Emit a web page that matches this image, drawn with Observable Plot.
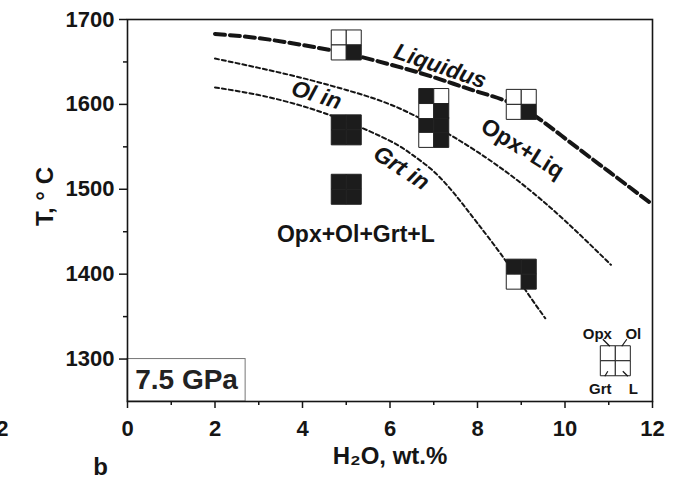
<!DOCTYPE html>
<html><head><meta charset="utf-8">
<script src="https://cdn.jsdelivr.net/npm/d3@7"></script>
<script src="https://cdn.jsdelivr.net/npm/@observablehq/plot@0.6"></script>
<style>body{margin:0;background:#fff;}</style>
</head><body><div id="chart"></div>
<script>
// Experimental runs (H2O wt.%, T °C) and phases present (1 = present)
const h2o  = [5, 5, 5, 7, 7, 9, 9];
const temp = [1670, 1570, 1500, 1601, 1567, 1600, 1400];
const opx  = [0, 1, 1, 1, 1, 0, 1];
const ol   = [0, 1, 1, 0, 1, 0, 1];
const grt  = [0, 1, 1, 0, 0, 0, 0];
const liq  = [1, 1, 1, 1, 1, 1, 1];

// Phase boundaries
const liquidusX = [2, 3, 4, 5, 6, 7, 8, 9, 10, 11, 12];
const liquidusT = [1683, 1678, 1670, 1660, 1647, 1632, 1615, 1596, 1560, 1521, 1482];
const olInX = [2, 3, 4, 5, 6, 7, 8, 9, 10, 11.05];
const olInT = [1654, 1643, 1631, 1617, 1600, 1575, 1544, 1507, 1463, 1411];
const grtInX = [2, 3, 4, 5, 6, 6.5, 7, 7.5, 8, 8.6, 9.1, 9.55];
const grtInT = [1620, 1611, 1598, 1580, 1557, 1541, 1521, 1493, 1460, 1419, 1381, 1348];

// Legend key
const phases = ["Opx", "Ol", "Grt", "L"];
const legendX = [11.15];
const legendT = [1298];

// Axis ticks
const xMajor = [0, 2, 4, 6, 8, 10, 12];
const xMinor = [1, 3, 5, 7, 9, 11];
const yMajor = [1300, 1400, 1500, 1600, 1700];
const yMinor = [1350, 1450, 1550, 1650];

const expts = h2o.map((x, i) => ({x, t: temp[i], Opx: opx[i], Ol: ol[i], Grt: grt[i], L: liq[i]}));
const legendRow = [{x: legendX[0], t: legendT[0], Opx: 0, Ol: 0, Grt: 0, L: 0}];
const line = (xs, ts) => xs.map((x, i) => ({x, t: ts[i]}));

const cell = 15;
const cellPos = {Opx: [-1, -1], Ol: [1, -1], Grt: [-1, 1], L: [1, 1]};
const cellMarks = (rows) => phases.map(p => Plot.dot(rows, {
  x: "x", y: "t", symbol: "square", r: cell / Math.sqrt(Math.PI),
  fill: d => d[p] ? "#1c1c1c" : "#ffffff", stroke: "#222", strokeWidth: 1,
  dx: cellPos[p][0] * cell / 2, dy: cellPos[p][1] * cell / 2
}));

const ink = "#151515";
const plot = Plot.plot({
  width: 678, height: 481,
  marginLeft: 127, marginRight: 26, marginTop: 19, marginBottom: 80,
  x: {domain: [0, 12]},
  y: {domain: [1250, 1700]},
  color: {type: "identity"},
  style: {fontFamily: "'Liberation Sans', Arial, sans-serif", fontWeight: "bold", color: ink, background: "#fff"},
  marks: [
    Plot.rect([{x1: 0, x2: 2.7, y1: 1250, y2: 1300}], {x1: "x1", x2: "x2", y1: "y1", y2: "y2", fill: "none", stroke: "#777", strokeWidth: 1}),
    Plot.text(["7.5 GPa"], {x: 1.35, y: 1275, fontSize: 28, fill: "#222"}),
    Plot.line(line(liquidusX, liquidusT), {x: "x", y: "t", curve: "natural", stroke: ink, strokeWidth: 4, strokeDasharray: "10,5"}),
    Plot.line(line(olInX, olInT), {x: "x", y: "t", curve: "natural", stroke: ink, strokeWidth: 2, strokeDasharray: "4,3"}),
    Plot.line(line(grtInX, grtInT), {x: "x", y: "t", curve: "natural", stroke: ink, strokeWidth: 2, strokeDasharray: "4,3"}),
    ...cellMarks(expts),
    ...cellMarks(legendRow),
    Plot.text(legendRow, {x: "x", y: "t", text: () => "Opx", dx: -18, dy: -27, fontSize: 15}),
    Plot.text(legendRow, {x: "x", y: "t", text: () => "Ol", dx: 18, dy: -27, fontSize: 15}),
    Plot.text(legendRow, {x: "x", y: "t", text: () => "Grt", dx: -15, dy: 28, fontSize: 15}),
    Plot.text(legendRow, {x: "x", y: "t", text: () => "L", dx: 18, dy: 28, fontSize: 15}),
    // curve labels
    Plot.text(["Liquidus"], {x: 7.15, y: 1645, rotate: 19, fontSize: 23, fontStyle: "italic"}),
    Plot.text(["Ol in"], {x: 4.32, y: 1611, rotate: 17, fontSize: 23, fontStyle: "italic"}),
    Plot.text(["Grt in"], {x: 6.26, y: 1525, rotate: 33, fontSize: 23, fontStyle: "italic"}),
    Plot.text(["Opx+Liq"], {x: 9.03, y: 1548, rotate: 32, fontSize: 23}),
    Plot.text(["Opx+Ol+Grt+L"], {x: 5.22, y: 1446, fontSize: 23}),
    // axes
    Plot.frame({stroke: ink, strokeWidth: 1.6}),
    Plot.axisX({ticks: xMajor, tickSize: 7, tickPadding: 12, fontSize: 22, label: null, strokeWidth: 1.5, tickFormat: d => String(d)}),
    Plot.axisX({ticks: xMinor, tickSize: 4, label: null, strokeWidth: 1.5, tickFormat: () => ""}),
    Plot.axisY({ticks: yMajor, tickSize: 8, tickPadding: 5, fontSize: 22, label: null, strokeWidth: 1.5, tickFormat: d => String(d)}),
    Plot.axisY({ticks: yMinor, tickSize: 4, label: null, strokeWidth: 1.5, tickFormat: () => ""}),
    Plot.text(["H\u2082O, wt.%"], {frameAnchor: "bottom", textAnchor: "middle", lineAnchor: "middle", dy: 55, fontSize: 24}),
    Plot.text(["T, \u00B0 C"], {frameAnchor: "left", textAnchor: "middle", lineAnchor: "middle", dx: -82, dy: -14, rotate: -90, fontSize: 24}),
    Plot.text(["b"], {frameAnchor: "bottom-left", textAnchor: "middle", lineAnchor: "middle", dx: -27, dy: 66, fontSize: 24}),
    Plot.text(["12"], {frameAnchor: "bottom-left", textAnchor: "end", lineAnchor: "middle", dx: -119, dy: 27, fontSize: 22})
  ]
});

// leader lines of the legend key, placed through the plot's own scales
const sx = plot.scale("x"), sy = plot.scale("y");
const cx = sx.apply(legendX[0]), cy = sy.apply(legendT[0]);
const leaders = [[-12, -21, -5, -14], [12, -21, 7, -14], [-7, 11, -10, 16], [8, 11, 13, 16]];
d3.select(plot).append("g").attr("stroke", ink).attr("stroke-width", 1.2)
  .selectAll("line").data(leaders).join("line")
  .attr("x1", d => cx + d[0]).attr("y1", d => cy + d[1])
  .attr("x2", d => cx + d[2]).attr("y2", d => cy + d[3]);

document.getElementById("chart").append(plot);
</script>
</body></html>
